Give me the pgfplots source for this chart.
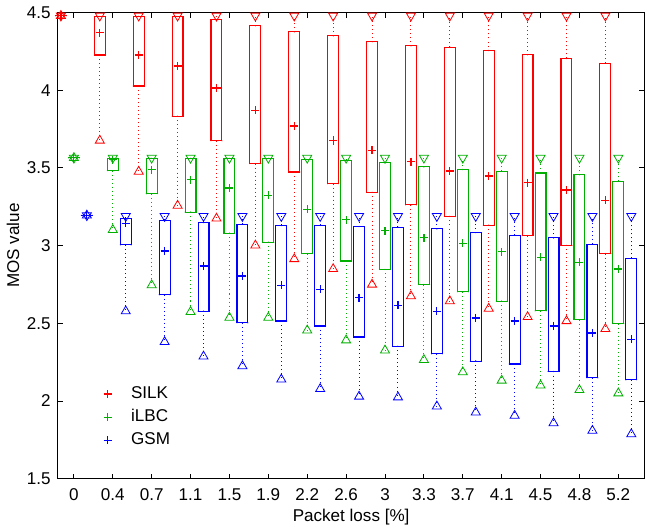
\documentclass[border=0pt]{standalone}
\usepackage{fontspec}
\setmainfont{Liberation Sans}
\usepackage{pgfplots}
\usepackage{pgfplotstable}
\pgfplotsset{compat=1.18}
\definecolor{silk}{RGB}{255,0,0}
\definecolor{ilbc}{RGB}{0,175,0}
\definecolor{gsm}{RGB}{0,0,255}

% pos min q1 mean q3 max  (pos = packet loss index)
\pgfplotstableread{
pos min q1 mean q3 max
0 4.48 4.48 4.48 4.48 4.48
1 3.677 4.227 4.370 4.476 4.48
2 3.477 4.028 4.227 4.476 4.48
3 3.258 3.833 4.157 4.475 4.48
4 3.175 3.675 4.015 4.453 4.48
5 3.002 3.528 3.871 4.416 4.48
6 2.914 3.474 3.770 4.377 4.48
7 2.850 3.399 3.677 4.351 4.48
8 2.750 3.343 3.614 4.313 4.48
9 2.675 3.263 3.541 4.287 4.48
10 2.643 3.188 3.481 4.278 4.48
11 2.595 3.132 3.448 4.256 4.48
12 2.541 3.065 3.405 4.229 4.48
13 2.515 3.002 3.358 4.205 4.48
14 2.464 2.949 3.291 4.175 4.48
}\silktab

\pgfplotstableread{
pos min q1 mean q3 max
0 3.565 3.565 3.565 3.565 3.565
1 3.102 3.483 3.554 3.562 3.565
2 2.746 3.334 3.490 3.562 3.565
3 2.574 3.216 3.425 3.562 3.565
4 2.537 3.080 3.371 3.562 3.565
5 2.537 3.022 3.324 3.562 3.565
6 2.455 2.949 3.235 3.554 3.565
7 2.391 2.901 3.166 3.550 3.565
8 2.326 2.847 3.097 3.533 3.565
9 2.265 2.750 3.050 3.507 3.565
10 2.186 2.703 3.015 3.490 3.565
11 2.132 2.643 2.960 3.479 3.565
12 2.100 2.580 2.925 3.468 3.565
13 2.071 2.524 2.892 3.457 3.565
14 2.050 2.498 2.850 3.414 3.565
}\ilbctab

\pgfplotstableread{
pos min q1 mean q3 max
0 3.195 3.195 3.195 3.195 3.195
1 2.578 3.005 3.145 3.177 3.19
2 2.380 2.684 2.966 3.162 3.19
3 2.287 2.578 2.869 3.149 3.19
4 2.225 2.503 2.805 3.138 3.19
5 2.139 2.515 2.746 3.130 3.19
6 2.078 2.483 2.720 3.130 3.19
7 2.029 2.412 2.666 3.123 3.19
8 2.024 2.352 2.617 3.119 3.19
9 1.966 2.304 2.578 3.108 3.19
10 1.927 2.257 2.535 3.084 3.19
11 1.906 2.238 2.515 3.067 3.19
12 1.858 2.190 2.483 3.050 3.19
13 1.809 2.149 2.438 3.009 3.19
14 1.787 2.136 2.397 2.918 3.19
}\gsmtab

\pgfplotsset{
  nomark/.style={only marks, mark=*, mark size=0.01pt, mark options={draw=none, fill=none}},
  whisk/.style={nomark, error bars/y explicit, error bars/error mark=none,
      error bars/error bar style={draw=#1, line width=0.5pt, dash pattern=on 0.5pt off 1.5pt}},
  boxedge/.style={nomark, error bars/error mark=none,
      error bars/error bar style={draw=#1, line width=0.55pt, line cap=rect}},
  mk/.style={only marks, color=#1, mark options={draw=#1, fill=#1, line width=0.6pt, solid}},
}

% one codec: table, colour, x offset
\newcommand\codec[3]{%
  % dotted whiskers min--q1 and q3--max
  \addplot[color=#2, whisk=#2, error bars/y dir=minus]
    table[x expr=\thisrow{pos}+#3, y=q1, y error expr=\thisrow{q1}-\thisrow{min}] {#1};
  \addplot[color=#2, whisk=#2, error bars/y dir=plus]
    table[x expr=\thisrow{pos}+#3, y=q3, y error expr=\thisrow{max}-\thisrow{q3}] {#1};
  % box: bottom and top edges
  \addplot[color=#2, boxedge=#2, error bars/x dir=both, error bars/x fixed=0.14]
    table[x expr=\thisrow{pos}+#3, y=q1] {#1};
  \addplot[color=#2, boxedge=#2, error bars/x dir=both, error bars/x fixed=0.14]
    table[x expr=\thisrow{pos}+#3, y=q3] {#1};
  % box: left and right edges
  \addplot[color=#2, boxedge=#2, error bars/y dir=plus, error bars/y explicit]
    table[x expr=\thisrow{pos}+#3-0.14, y=q1, y error expr=\thisrow{q3}-\thisrow{q1}] {#1};
  \addplot[color=#2, boxedge=#2, error bars/y dir=plus, error bars/y explicit]
    table[x expr=\thisrow{pos}+#3+0.14, y=q1, y error expr=\thisrow{q3}-\thisrow{q1}] {#1};
  % mean, max, min markers
  \addplot[mk=#2, mark=+, mark size=2pt]
    table[x expr=\thisrow{pos}+#3, y=mean] {#1};
  \addplot[mk=#2, mark=triangle, mark size=2.6pt, mark options={rotate=180, fill=none}]
    table[x expr=\thisrow{pos}+#3, y=max] {#1};
  \addplot[mk=#2, mark=triangle, mark size=2.6pt, mark options={fill=none}]
    table[x expr=\thisrow{pos}+#3, y=min] {#1};
}

\begin{document}
\begin{tikzpicture}
\begin{axis}[
    width=292pt, height=232pt, scale only axis,
    xmin=-0.413, xmax=14.67, ymin=1.5, ymax=4.5,
    xtick={0,...,14},
    xticklabels={0,0.4,0.7,1.1,1.5,1.9,2.2,2.6,3,3.3,3.7,4.1,4.5,4.8,5.2},
    ytick={1.5,2,2.5,3,3.5,4,4.5},
    /pgf/number format/assume math mode=true,
    tick align=inside, major tick length=2.5pt,
    axis line style={line width=0.6pt, draw=black},
    tick style={line width=0.5pt, draw=black},
    tick label style={font=\fontsize{8.5}{10}\selectfont},
    xticklabel style={yshift=-1.5pt},
    label style={font=\fontsize{8.5}{10}\selectfont},
    xlabel={Packet loss [\%]},
    xlabel style={yshift=3pt},
    ylabel={MOS value},
    ylabel shift=-3pt,
    clip=false,
    legend style={draw=none, fill=none, font=\fontsize{8.5}{10}\selectfont,
        at={(rel axis cs:0.067,0.216)}, anchor=north west},
    legend cell align=left,
    legend image code/.code={%
        \draw[#1] plot coordinates {(0cm,0cm)};
        \node[inner sep=0pt, minimum size=0pt] at (9.5pt,0pt) {};},
]
\addlegendimage{mk=silk, mark=+, mark size=2pt}
\addlegendentry{SILK}
\addlegendimage{mk=ilbc, mark=+, mark size=2pt}
\addlegendentry{iLBC}
\addlegendimage{mk=gsm, mark=+, mark size=2pt}
\addlegendentry{GSM}

\codec{\silktab}{silk}{-0.3333}
\codec{\ilbctab}{ilbc}{0}
\codec{\gsmtab}{gsm}{0.3333}
\end{axis}
\end{tikzpicture}
\end{document}
